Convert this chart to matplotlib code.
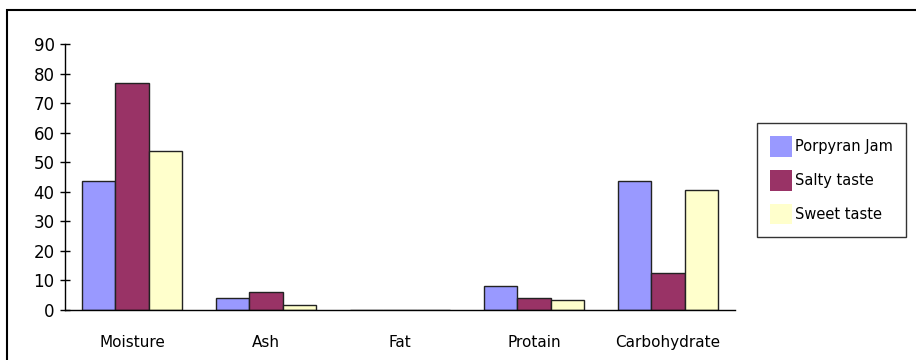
import matplotlib
matplotlib.use("Agg")
import matplotlib.pyplot as plt
import numpy as np
from matplotlib.patches import Rectangle

categories = ['Moisture', 'Ash', 'Fat', 'Protain', 'Carbohydrate']
porpyran_jam = [43.6, 4.2, 0.0, 8.1, 43.6]
salty_taste = [76.9, 6.0, 0.0, 4.2, 12.6]
sweet_taste = [53.8, 1.7, 0.0, 3.4, 40.5]
series_names = ['Porpyran Jam', 'Salty taste', 'Sweet taste']
colors = ['#9999ff', '#993366', '#ffffcc']

plt.rcParams['font.family'] = 'DejaVu Sans'

fig = plt.figure(figsize=(9.16, 3.6), dpi=100)
ax = fig.add_axes([65 / 916, 1 - 310 / 360, 670 / 916, 266 / 360])

x = np.arange(len(categories))
w = 0.25
for i, (vals, name, c) in enumerate(zip([porpyran_jam, salty_taste, sweet_taste], series_names, colors)):
    ax.bar(x + (i - 1) * w, vals, w, color=c, edgecolor='#222222', linewidth=1, label=name)

ax.set_xlim(-0.5, len(categories) - 0.5)
ax.set_ylim(0, 90)
ax.set_yticks(range(0, 91, 10))
ax.set_xticks(x)
ax.set_xticklabels(categories, fontsize=11)
ax.tick_params(axis='x', length=0, pad=18)
ax.tick_params(axis='y', direction='inout', length=7, width=1, labelsize=12, pad=4)
for s in ['top', 'right']:
    ax.spines[s].set_visible(False)
for s in ['left', 'bottom']:
    ax.spines[s].set_color('black')
    ax.spines[s].set_linewidth(1)

leg = ax.legend(loc='upper left', bbox_to_anchor=(757 / 916, 1 - 123 / 360),
                bbox_transform=fig.transFigure, borderaxespad=0, fontsize=10.5,
                frameon=True, fancybox=False, handlelength=1.5, handleheight=1.8,
                handletextpad=0.2, labelspacing=0.9, borderpad=0.9)
leg.get_frame().set_edgecolor('black')
leg.get_frame().set_linewidth(1)
for h in leg.legend_handles:
    h.set_edgecolor('none')

# outer frame around the whole chart
fig.add_artist(Rectangle((7 / 916, -0.1), 1.0, 1 - 10 / 360 + 0.1, transform=fig.transFigure,
                         fill=False, edgecolor='black', linewidth=1.5))

fig.savefig('out.png', dpi=100)
